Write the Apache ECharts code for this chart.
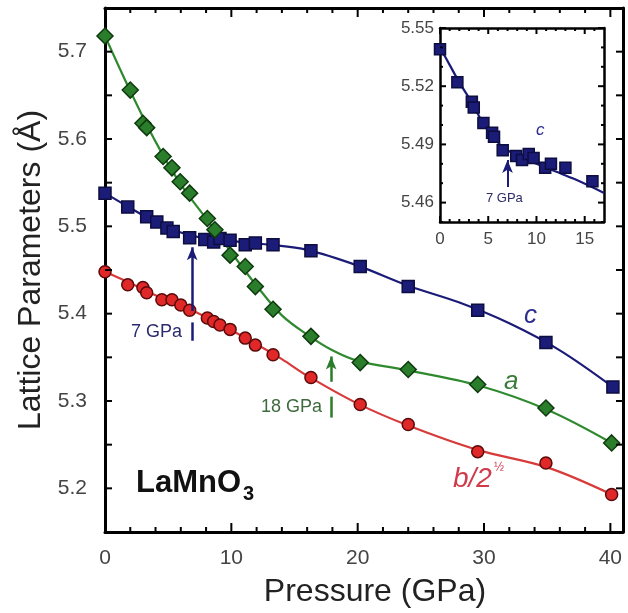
<!DOCTYPE html>
<html>
<head>
<meta charset="utf-8">
<script src="https://cdn.jsdelivr.net/npm/echarts@6/dist/echarts.min.js"></script>
<style>
  html, body { margin: 0; padding: 0; background: #fff; }
  #main { width: 628px; height: 613px; }
</style>
</head>
<body>
<div id="main"></div>
<script>
// lattice parameter c (blue squares)
const cPressure = [0, 1.8, 3.3, 4.1, 4.9, 5.4, 6.7, 7.9, 8.6, 9.1, 9.9, 11.1, 11.9, 13.3, 16.3, 20.2, 24.0, 29.5, 34.9, 40.2];
const cValues = [5.538, 5.522, 5.511, 5.505, 5.498, 5.494, 5.487, 5.485, 5.482, 5.486, 5.484, 5.479, 5.481, 5.479, 5.472, 5.454, 5.431, 5.404, 5.367, 5.316];
const cFitP = [0, 2, 4, 6, 8, 10, 13, 16, 20, 24, 28, 32, 36, 40.2];
const cFitV = [5.538, 5.521, 5.505, 5.493, 5.486, 5.483, 5.479, 5.473, 5.455, 5.432, 5.413, 5.389, 5.358, 5.316];

// lattice parameter a (green diamonds)
const aPressure = [0, 2.0, 3.0, 3.3, 4.6, 5.3, 5.95, 6.7, 8.1, 8.7, 9.9, 11.1, 11.9, 13.3, 16.3, 20.2, 24.0, 29.5, 34.9, 40.1];
const aValues = [5.718, 5.656, 5.618, 5.613, 5.580, 5.567, 5.551, 5.538, 5.509, 5.496, 5.467, 5.454, 5.431, 5.405, 5.374, 5.344, 5.336, 5.319, 5.292, 5.252];
const aFitP = [0, 2, 4, 6, 8, 10, 12, 14, 16, 18, 20, 24, 29.5, 35, 40.1];
const aFitV = [5.718, 5.655, 5.597, 5.548, 5.509, 5.470, 5.432, 5.398, 5.376, 5.358, 5.346, 5.335, 5.318, 5.290, 5.252];

// b / 2^(1/2) (red circles)
const bPressure = [0, 1.8, 3.0, 3.3, 4.5, 5.3, 6.0, 6.7, 8.1, 8.6, 9.1, 9.9, 11.1, 11.9, 13.3, 16.3, 20.2, 24.0, 29.5, 34.9, 40.1];
const bValues = [5.448, 5.433, 5.430, 5.424, 5.416, 5.416, 5.410, 5.404, 5.395, 5.391, 5.387, 5.382, 5.372, 5.364, 5.353, 5.327, 5.296, 5.273, 5.242, 5.229, 5.193];
const bFitP = [0, 2, 4, 6, 8, 10, 12, 14, 16, 20, 24, 29.5, 35, 40.1];
const bFitV = [5.448, 5.435, 5.421, 5.410, 5.396, 5.381, 5.365, 5.348, 5.329, 5.297, 5.272, 5.244, 5.224, 5.193];

// inset: c at low pressure
const insetPressure = [0, 1.8, 3.3, 3.5, 4.5, 5.4, 5.6, 6.5, 7.9, 8.5, 9.2, 9.7, 10.9, 11.5, 13.0, 15.8];
const insetValues = [5.539, 5.522, 5.512, 5.509, 5.501, 5.496, 5.494, 5.487, 5.484, 5.482, 5.485, 5.483, 5.478, 5.480, 5.478, 5.471];
const insetFitP = [0, 1, 2, 3, 4, 5, 6, 7, 8, 10, 12, 14, 17];
const insetFitV = [5.540, 5.531, 5.522, 5.514, 5.505, 5.497, 5.491, 5.487, 5.484, 5.480, 5.476, 5.472, 5.465];

// transition markers
const arrow7 = [[6.9, 5.403], [6.9, 5.476]];
const bar7 = [[6.9, 5.369], [6.9, 5.390]];
const arrow18 = [[17.9, 5.322], [17.9, 5.351]];
const bar18 = [[17.9, 5.305], [17.9, 5.281]];
const insetArrow7 = [[7, 5.468], [7, 5.482]];

// tick labels
const mainXTicks = [0, 10, 20, 30, 40];
const mainYTicks = [5.2, 5.3, 5.4, 5.5, 5.6, 5.7];
const insetXTicks = [0, 5, 10, 15];
const insetYTicks = [5.46, 5.49, 5.52, 5.55];

const MAIN = { xMin: 0, xMax: 41, yMin: 5.15, yMax: 5.75 };
const INSET = { xMin: 0, xMax: 17, yMin: 5.45, yMax: 5.55 };

const FONT = 'Liberation Sans, Arial, sans-serif';
const BLUE = '#1b1b78';
const GREEN = '#2a7d2a';
const RED = '#e02828';

const zip = (xs, ys) => xs.map((x, i) => [x, ys[i]]);
const near = (v, list) => list.some(t => Math.abs(v - t) < 1e-6);
const range = (a, b, step) => {
  const out = [];
  for (let i = 0; a + i * step <= b + 1e-9; i++) out.push(+(a + i * step).toFixed(4));
  return out;
};

// tick marks as [x, y, length, side]; side 0 bottom, 1 top, 2 left, 3 right
function tickData(box, xStep, yStep, xMajor, yMajor, len) {
  const rows = [];
  range(box.xMin, box.xMax - 0.5, xStep).forEach(v => {
    const l = near(v, xMajor) ? len[1] : len[0];
    rows.push([v, box.yMin, l, 0], [v, box.yMax, l, 1]);
  });
  range(box.yMin, box.yMax, yStep).forEach(v => {
    const l = near(v, yMajor) ? len[3] : len[2];
    rows.push([box.xMin, v, l, 2], [box.xMax, v, l, 3]);
  });
  return rows;
}

function tickSeries(data, xi, yi) {
  return {
    type: 'custom', xAxisIndex: xi, yAxisIndex: yi, data: data, silent: true, z: 5,
    renderItem: (params, api) => {
      const p = api.coord([api.value(0), api.value(1)]);
      const l = api.value(2);
      const side = api.value(3);
      const d = [[0, -l], [0, l], [l, 0], [-l, 0]][side];
      return {
        type: 'line',
        shape: { x1: p[0], y1: p[1], x2: p[0] + d[0], y2: p[1] + d[1] },
        style: { stroke: '#000', lineWidth: 2 },
      };
    },
  };
}

function frame(width) {
  return { show: true, onZero: false, lineStyle: { color: '#000', width: width } };
}
const noTick = { show: false };

const xAxes = [
  {
    type: 'value', gridIndex: 0, position: 'bottom', min: MAIN.xMin, max: MAIN.xMax, interval: 2,
    splitLine: { show: false }, axisLine: frame(3), axisTick: noTick,
    name: 'Pressure (GPa)', nameLocation: 'middle', nameGap: 44,
    nameTextStyle: { fontSize: 32, color: '#222', fontFamily: FONT, padding: [0, 0, 0, 22] },
    axisLabel: {
      margin: 16, color: '#444', fontSize: 21, fontFamily: FONT,
      formatter: v => (near(v, mainXTicks) ? String(Math.round(v)) : ''),
    },
  },
  {
    type: 'value', gridIndex: 1, position: 'bottom', min: INSET.xMin, max: INSET.xMax, interval: 1,
    splitLine: { show: false }, axisLine: frame(2.5), axisTick: noTick,
    axisLabel: {
      margin: 9, color: '#444', fontSize: 17, fontFamily: FONT,
      formatter: v => (near(v, insetXTicks) ? String(Math.round(v)) : ''),
    },
  },
  { type: 'value', gridIndex: 0, position: 'top', min: MAIN.xMin, max: MAIN.xMax, interval: 2,
    splitLine: { show: false }, axisLine: frame(3), axisTick: noTick, axisLabel: { show: false } },
  { type: 'value', gridIndex: 1, position: 'top', min: INSET.xMin, max: INSET.xMax, interval: 1,
    splitLine: { show: false }, axisLine: frame(2.5), axisTick: noTick, axisLabel: { show: false } },
];

const yAxes = [
  {
    type: 'value', gridIndex: 0, position: 'left', min: MAIN.yMin, max: MAIN.yMax, interval: 0.05,
    name: 'Lattice Parameters (\u00c5)', nameLocation: 'middle', nameGap: 58,
    nameTextStyle: { fontSize: 32, color: '#222', fontFamily: FONT },
    splitLine: { show: false }, axisLine: frame(3), axisTick: noTick,
    axisLabel: {
      margin: 18, color: '#444', fontSize: 21, fontFamily: FONT,
      formatter: v => (near(v, mainYTicks) ? v.toFixed(1) : ''),
    },
  },
  {
    type: 'value', gridIndex: 1, position: 'left', min: INSET.yMin, max: INSET.yMax, interval: 0.01,
    splitLine: { show: false }, axisLine: frame(2.5), axisTick: noTick,
    axisLabel: {
      margin: 6, color: '#444', fontSize: 17, fontFamily: FONT,
      formatter: v => (near(v, insetYTicks) ? v.toFixed(2) : ''),
    },
  },
  { type: 'value', gridIndex: 0, position: 'right', min: MAIN.yMin, max: MAIN.yMax, interval: 0.05,
    splitLine: { show: false }, axisLine: frame(3), axisTick: noTick, axisLabel: { show: false } },
  { type: 'value', gridIndex: 1, position: 'right', min: INSET.yMin, max: INSET.yMax, interval: 0.01,
    splitLine: { show: false }, axisLine: frame(2.5), axisTick: noTick, axisLabel: { show: false } },
];

function fit(name, data, color, xi, yi, extra) {
  return Object.assign({
    name: name, type: 'line', xAxisIndex: xi, yAxisIndex: yi, data: data,
    smooth: 0.35, showSymbol: false, symbol: 'none', silent: true,
    lineStyle: { color: color, width: 2.2 },
  }, extra || {});
}

function points(name, data, symbol, size, fill, border, xi, yi, extra) {
  return Object.assign({
    name: name, type: 'scatter', xAxisIndex: xi, yAxisIndex: yi, data: data,
    symbol: symbol, symbolSize: size, silent: true, z: 3,
    itemStyle: { color: fill, borderColor: border, borderWidth: 1.5, opacity: 1 },
  }, extra || {});
}

function markLine(pair, color, width, head) {
  return {
    silent: true, symbol: ['none', head ? 'arrow' : 'none'], symbolSize: [8, 13], label: { show: false },
    lineStyle: { color: color, width: width, type: 'solid' },
    data: [[{ coord: pair[0] }, { coord: pair[1] }]],
  };
}

const series = [
  fit('c fit', zip(cFitP, cFitV), BLUE, 0, 0, { markLine: markLine(arrow7, BLUE, 2.5, true) }),
  fit('b fit', zip(bFitP, bFitV), '#d83a3a', 0, 0),
  fit('a fit', zip(aFitP, aFitV), '#2f8a2f', 0, 0, { markLine: markLine(arrow18, GREEN, 2.5, true) }),
  points('c', zip(cPressure, cValues), 'rect', 12, BLUE, '#0d0d40', 0, 0, { markLine: markLine(bar7, BLUE, 2.5, false) }),
  points('b', zip(bPressure, bValues), 'circle', 12, RED, '#5a0a0a', 0, 0),
  points('a', zip(aPressure, aValues), 'diamond', 16, GREEN, '#0f3a0f', 0, 0, { markLine: markLine(bar18, GREEN, 2.5, false) }),
  fit('inset fit', zip(insetFitP, insetFitV), BLUE, 1, 1, { markLine: markLine(insetArrow7, BLUE, 2, true) }),
  points('inset c', zip(insetPressure, insetValues), 'rect', 11, BLUE, '#0d0d40', 1, 1),
  tickSeries(tickData(MAIN, 2, 0.05, mainXTicks, mainYTicks, [5, 9, 7, 7]), 0, 0),
  tickSeries(tickData(INSET, 1, 0.01, insetXTicks, insetYTicks, [3, 6, 3, 6]), 1, 1),
];

const text = (left, top, str, font, color) => ({
  type: 'text', left: left, top: top, silent: true,
  style: { text: str, font: font, fill: color },
});

const graphic = [
  text(136, 468, 'LaMnO', 'bold 31px ' + FONT, '#111'),
  text(243, 484, '3', 'bold 20px ' + FONT, '#111'),
  text(524, 303, 'c', 'italic 26px ' + FONT, '#2e2e8e'),
  text(504, 369, 'a', 'italic 26px ' + FONT, '#3a7a3a'),
  text(453, 465, 'b/2', 'italic 28px ' + FONT, '#d03a4a'),
  text(494, 462, '\u00bd', '12px ' + FONT, '#d03a4a'),
  text(131, 323, '7 GPa', '18px ' + FONT, '#2b2b6b'),
  text(261, 398, '18 GPa', '18px ' + FONT, '#3c6b3c'),
  text(486, 192, '7 GPa', '13px ' + FONT, '#2b2b6b'),
  text(536, 122, 'c', 'italic 17px ' + FONT, '#2e2e8e'),
];

const chart = echarts.init(document.getElementById('main'), null, { renderer: 'canvas' });
chart.setOption({
  animation: false,
  backgroundColor: '#fff',
  grid: [
    { left: 105, top: 8, width: 518, height: 524 },
    { left: 440, top: 28, width: 164, height: 194, show: true, backgroundColor: '#fff', borderWidth: 0 },
  ],
  xAxis: xAxes,
  yAxis: yAxes,
  series: series,
  graphic: graphic,
});
</script>
</body>
</html>
